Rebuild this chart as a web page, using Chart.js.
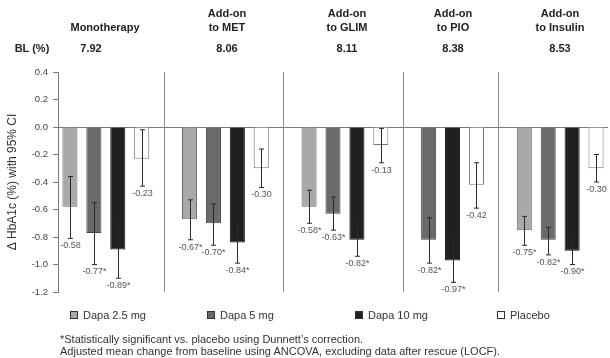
<!DOCTYPE html>
<html>
<head>
<meta charset="utf-8">
<script src="https://cdn.jsdelivr.net/npm/chart.js@4.4.1/dist/chart.umd.min.js"></script>
<style>
  body { margin: 0; background: #fff; font-family: 'Liberation Sans', Arial, sans-serif; }
  #wrap { position: relative; width: 610px; height: 358px; overflow: hidden; }
  #wrap canvas { position: absolute; left: 0; top: 0; }
  .hd { position: absolute; transform: translate(-50%, -50%); font-size: 11px; font-weight: bold; color: #222; white-space: nowrap; }
  .lg { position: absolute; font-size: 11px; color: #333; white-space: nowrap; line-height: 13px; }
  .lg span { display: inline-block; width: 6px; height: 6px; border: 1px solid #333; margin-right: 5px; vertical-align: 0px; }
  .fn { position: absolute; font-size: 11px; color: #333; white-space: nowrap; }
</style>
</head>
<body>
<div id="wrap">
  <canvas id="hbaChart" width="610" height="358"></canvas>
</div>
<script>
// grupos y basal
const groupTitles = [['Monotherapy'], ['Add-on', 'to MET'], ['Add-on', 'to GLIM'], ['Add-on', 'to PIO'], ['Add-on', 'to Insulin']];
const baseline = ['7.92', '8.06', '8.11', '8.38', '8.53'];

// series: valor medio, IC 95% (bajo / alto), significativo
const seriesNames = ['Dapa 2.5 mg', 'Dapa 5 mg', 'Dapa 10 mg', 'Placebo'];
const dapa25 = [-0.58, -0.67, -0.58, null, -0.75];
const dapa25Lo = [-0.81, -0.82, -0.70, null, -0.86];
const dapa25Hi = [-0.36, -0.53, -0.46, null, -0.65];
const dapa25Sig = [false, true, true, false, true];
const dapa5 = [-0.77, -0.70, -0.63, -0.82, -0.82];
const dapa5Lo = [-1.00, -0.86, -0.75, -0.99, -0.93];
const dapa5Hi = [-0.55, -0.56, -0.51, -0.66, -0.73];
const dapa5Sig = [true, true, true, true, true];
const dapa10 = [-0.89, -0.84, -0.82, -0.97, -0.90];
const dapa10Lo = [-1.10, -0.99, -0.94, -1.13, -1.00];
const dapa10Hi = [-0.68, -0.71, -0.70, -0.81, -0.81];
const dapa10Sig = [true, true, true, true, true];
const placebo = [-0.23, -0.30, -0.13, -0.42, -0.30];
const placeboLo = [-0.43, -0.44, -0.26, -0.59, -0.40];
const placeboHi = [-0.02, -0.16, -0.01, -0.26, -0.20];
const placeboSig = [false, false, false, false, false];

const yTicks = [0.4, 0.2, 0.0, -0.2, -0.4, -0.6, -0.8, -1.0, -1.2];

const fills = ['#a9a9a9', '#6a6a6a', '#202020', '#ffffff'];
const borders = ['#666', '#444', '#111', '#777'];

// posiciones del encabezado y la leyenda (como en la diapositiva original)
const headerX = [105, 227, 347, 453, 560];
const baselineX = [91, 227, 347, 453, 560];
const legendX = [70, 207, 355, 497];

const series = [
    { v: dapa25, lo: dapa25Lo, hi: dapa25Hi, sig: dapa25Sig },
    { v: dapa5, lo: dapa5Lo, hi: dapa5Hi, sig: dapa5Sig },
    { v: dapa10, lo: dapa10Lo, hi: dapa10Hi, sig: dapa10Sig },
    { v: placebo, lo: placeboLo, hi: placeboHi, sig: placeboSig }
];

// una ranura por barra, una ranura vacía entre grupos
const slots = [];
const dividers = [];
const slotData = series.map(() => ({ v: [], lo: [], hi: [], sig: [] }));
groupTitles.forEach((g, gi) => {
    if (gi > 0) {
        dividers.push(slots.length);
        slots.push('');
        slotData.forEach(d => { d.v.push(null); d.lo.push(null); d.hi.push(null); d.sig.push(false); });
    }
    series.forEach((s, si) => {
        if (s.v[gi] === null) return;
        slots.push(g.join(' ') + ' ' + seriesNames[si]);
        slotData.forEach((d, di) => {
            const own = di === si;
            d.v.push(own ? s.v[gi] : null);
            d.lo.push(own ? s.lo[gi] : null);
            d.hi.push(own ? s.hi[gi] : null);
            d.sig.push(own ? s.sig[gi] : false);
        });
    });
});

// encabezado, leyenda y notas como texto HTML
const wrap = document.getElementById('wrap');
function addDiv(cls, html, left, top) {
    const d = document.createElement('div');
    d.className = cls;
    d.innerHTML = html;
    d.style.left = left + 'px';
    d.style.top = top + 'px';
    wrap.appendChild(d);
}
groupTitles.forEach((lines, i) => {
    if (lines.length === 1) {
        addDiv('hd', lines[0], headerX[i], 27);
    } else {
        addDiv('hd', lines[0], headerX[i], 13);
        addDiv('hd', lines[1], headerX[i], 27);
    }
    addDiv('hd', baseline[i], baselineX[i], 48);
});
addDiv('hd', 'BL (%)', 32, 48);
seriesNames.forEach((n, i) => {
    addDiv('lg', '<span style="background:' + fills[i] + '"></span>' + n, legendX[i], 309);
});
addDiv('fn', '*Statistically significant vs. placebo using Dunnett\u2019s correction.', 60, 333);
addDiv('fn', 'Adjusted mean change from baseline using ANCOVA, excluding data after rescue (LOCF).', 60, 345);

// barras de error, etiquetas y separadores
const extrasPlugin = {
    id: 'extras',
    afterDatasetsDraw(chart) {
        const ctx = chart.ctx;
        const area = chart.chartArea;
        const xs = chart.scales.x;
        const ys = chart.scales.y;
        ctx.save();
        ctx.strokeStyle = '#8a8a8a';
        ctx.lineWidth = 1;
        dividers.forEach(idx => {
            const x = Math.round(xs.getPixelForValue(idx) - 2) + 0.5;
            ctx.beginPath();
            ctx.moveTo(x, area.top);
            ctx.lineTo(x, area.bottom);
            ctx.stroke();
        });
        chart.data.datasets.forEach((ds, di) => {
            const meta = chart.getDatasetMeta(di);
            meta.data.forEach((el, j) => {
                if (ds.data[j] === null) return;
                const x = Math.round(el.x) + 0.5;
                const yLo = ys.getPixelForValue(ds.lo[j]);
                const yHi = ys.getPixelForValue(ds.hi[j]);
                ctx.strokeStyle = '#2a2a2a';
                ctx.beginPath();
                ctx.moveTo(x, yHi);
                ctx.lineTo(x, yLo);
                ctx.moveTo(x - 2.5, yHi);
                ctx.lineTo(x + 2.5, yHi);
                ctx.moveTo(x - 2.5, yLo);
                ctx.lineTo(x + 2.5, yLo);
                ctx.stroke();
                ctx.fillStyle = '#555';
                ctx.font = '9px "Liberation Sans", Arial, sans-serif';
                ctx.textAlign = 'center';
                ctx.textBaseline = 'top';
                ctx.fillText(ds.data[j].toFixed(2) + (ds.sig[j] ? '*' : ''), x, yLo + 3);
            });
        });
        ctx.restore();
    }
};

const ctx = document.getElementById('hbaChart').getContext('2d');
new Chart(ctx, {
    type: 'bar',
    data: {
        labels: slots,
        datasets: slotData.map((d, i) => ({
            label: seriesNames[i],
            data: d.v,
            lo: d.lo,
            hi: d.hi,
            sig: d.sig,
            backgroundColor: fills[i],
            borderColor: borders[i],
            borderWidth: 1,
            grouped: false,
            barPercentage: 0.63,
            categoryPercentage: 1
        }))
    },
    options: {
        responsive: false,
        animation: false,
        layout: { padding: { top: 72, bottom: 66, left: 0, right: 2 } },
        plugins: { legend: { display: false }, tooltip: { enabled: false } },
        scales: {
            x: { display: false },
            y: {
                min: -1.2,
                max: 0.4,
                afterFit(scale) { scale.width = 58; },
                afterBuildTicks(scale) { scale.ticks = yTicks.map(v => ({ value: v })); },
                ticks: {
                    color: '#444',
                    padding: 5,
                    font: { family: '"Liberation Sans", Arial, sans-serif', size: 9.5 },
                    callback: v => v.toFixed(1)
                },
                grid: {
                    color: c => (c.tick && c.tick.value === 0 ? '#7a7a7a' : 'transparent'),
                    tickColor: '#7a7a7a',
                    tickLength: 5
                },
                border: { display: true, color: '#7a7a7a' },
                title: {
                    display: true,
                    text: '\u0394 HbA1c (%) with 95% CI',
                    color: '#333',
                    padding: { top: 5, bottom: 0 },
                    font: { family: '"Liberation Sans", Arial, sans-serif', size: 12 }
                }
            }
        }
    },
    plugins: [extrasPlugin]
});
</script>
</body>
</html>
